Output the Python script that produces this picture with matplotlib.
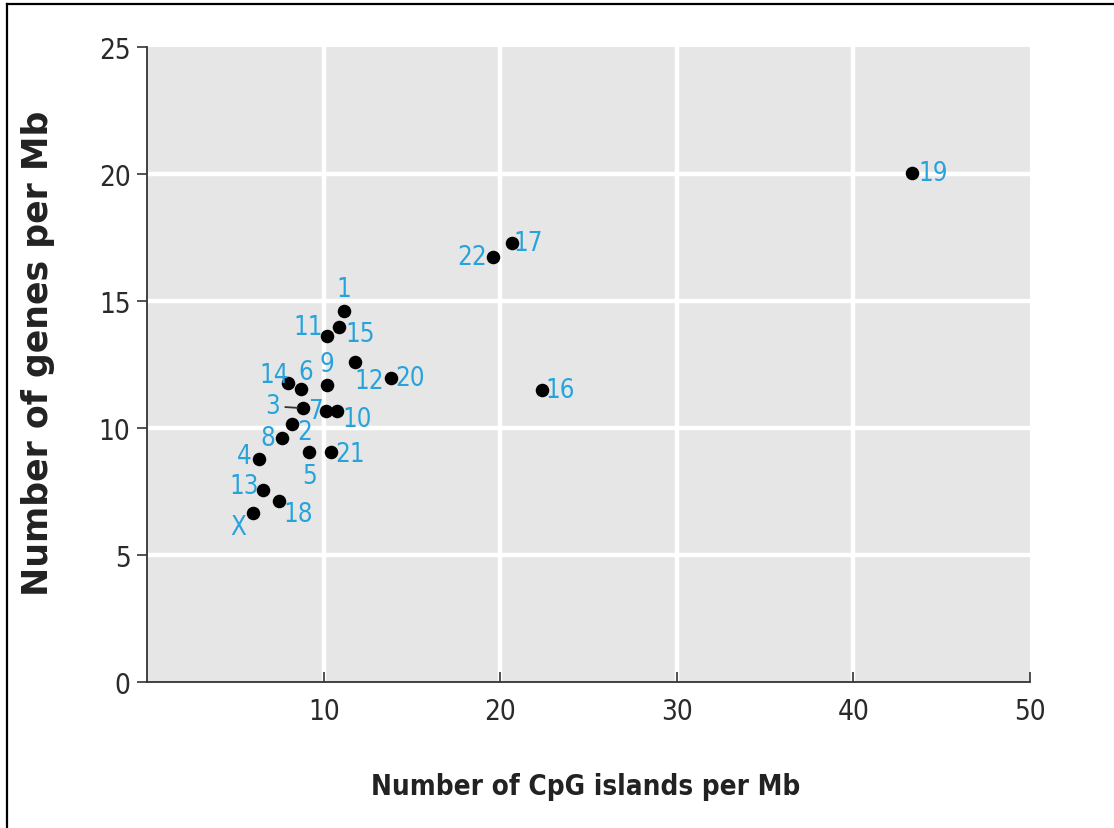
import matplotlib
matplotlib.use("Agg")
import matplotlib.pyplot as plt
from matplotlib.lines import Line2D

plt.rcParams['font.family'] = ['DejaVu Sans']

# Data: chromosome, CpG islands per Mb, genes per Mb
chromosomes = ['1', '2', '3', '4', '5', '6', '7', '8', '9', '10', '11', '12',
               '13', '14', '15', '16', '17', '18', '19', '20', '21', '22', 'X']
cpg_per_mb = [11.16, 8.19, 8.85, 6.36, 9.19, 8.70, 10.14, 7.66, 10.21, 10.78, 10.21, 11.78,
              6.55, 8.00, 10.89, 22.37, 20.67, 7.47, 43.32, 13.83, 10.42, 19.59, 5.99]
genes_per_mb = [14.62, 10.16, 10.78, 8.78, 9.05, 11.54, 10.68, 9.61, 11.69, 10.68, 13.63, 12.61,
                7.57, 11.76, 13.96, 11.50, 17.28, 7.14, 20.04, 11.96, 9.04, 16.73, 6.65]
x_ticks = [10, 20, 30, 40, 50]
y_ticks = [0, 5, 10, 15, 20, 25]

# label placement offsets (pixels) relative to each dot
label_offsets = {
    '1': (0, 22), '2': (13, -8), '3': (-31, 2), '4': (-15, 3), '5': (0, -24),
    '6': (5, 17), '7': (-11, 0), '8': (-15, 0), '9': (0, 21), '10': (20, -8),
    '11': (-19, 9), '12': (14, -19), '13': (-19, 4), '14': (-14, 8), '15': (21, -7),
    '16': (18, 0), '17': (16, 0), '18': (19, -13), '19': (21, 0), '20': (19, 0),
    '21': (19, -2), '22': (-21, 0), 'X': (-15, -14),
}

BLUE = '#27a3dc'

fig = plt.figure(figsize=(11.14, 8.29), dpi=100)
ax = fig.add_axes([0.132, 0.1761, 0.7926, 0.7659])
ax.set_facecolor('#e6e6e6')
ax.set_xlim(0, 50)
ax.set_ylim(0, 25)

for gx in [10, 20, 30, 40]:
    ax.axvline(gx, color='white', lw=3.2, zorder=1)
for gy in [5, 10, 15, 20]:
    ax.axhline(gy, color='white', lw=3.2, zorder=1)

ax.scatter(cpg_per_mb, genes_per_mb, s=95, color='black', zorder=3, linewidths=0)

for name, x, y in zip(chromosomes, cpg_per_mb, genes_per_mb):
    dx, dy = label_offsets[name]
    kw = dict(textcoords='offset pixels', ha='center', va='center', color=BLUE,
              fontsize=18.5, zorder=4, family='DejaVu Sans', stretch='condensed')
    if name == '3':
        kw['arrowprops'] = dict(arrowstyle='-', color='#333333', lw=1.3, shrinkA=2, shrinkB=4)
    ax.annotate(name, (x, y), xytext=(dx, dy), **kw)

for side in ['top', 'right']:
    ax.spines[side].set_visible(False)
for side in ['left', 'bottom']:
    ax.spines[side].set_color('#333333')
    ax.spines[side].set_linewidth(1.3)

ax.set_xticks(x_ticks)
ax.set_yticks(y_ticks)
ax.set_xticklabels([str(v) for v in x_ticks], family='DejaVu Sans', stretch='condensed')
ax.set_yticklabels([str(v) for v in y_ticks], family='DejaVu Sans', stretch='condensed')
ax.tick_params(axis='x', direction='in', length=7, width=1.2, color='#333333',
               labelsize=20, labelcolor='#2a2a2a', pad=11)
ax.tick_params(axis='y', direction='out', length=7, width=1.2, color='#333333',
               labelsize=20, labelcolor='#2a2a2a', pad=5)

ax.set_xlabel('Number of CpG islands per Mb', fontsize=20, fontweight='bold',
              color='#222222', family='DejaVu Sans', stretch='condensed')
ax.xaxis.set_label_coords(0.497, -0.164)
ax.xaxis.label.set_va('center')

ax.set_ylabel('Number of genes per Mb', fontsize=25, fontweight='bold',
              color='#222222', family='DejaVu Sans')
ax.yaxis.set_label_coords(-0.1234, 0.52)
ax.yaxis.label.set_va('center')

# frame lines (left and top) of the figure panel
fig.add_artist(Line2D([7 / 1114, 7 / 1114], [0, 1 - 5 / 829], color='black', lw=1.6,
                      transform=fig.transFigure))
fig.add_artist(Line2D([7 / 1114, 1], [1 - 5 / 829, 1 - 5 / 829], color='black', lw=1.6,
                      transform=fig.transFigure))

fig.savefig('out.png', dpi=100)
